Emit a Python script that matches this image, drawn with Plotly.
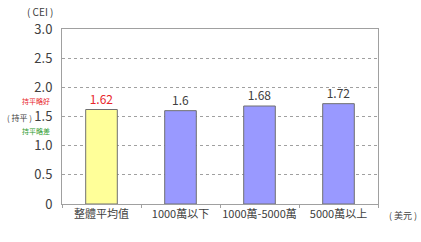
import plotly.graph_objects as go

categories = ["整體平均值", "1000萬以下", "1000萬-5000萬", "5000萬以上"]
values = [1.62, 1.6, 1.68, 1.72]
value_labels = ["1.62", "1.6", "1.68", "1.72"]
bar_colors = ["#FFFF99", "#9999FF", "#9999FF", "#9999FF"]
label_colors = ["#E8262B", "#404040", "#404040", "#404040"]
y_tickvals = [0, 0.5, 1.0, 1.5, 2.0, 2.5, 3.0]
y_ticktext = ["0", "0.5", "1.0", "1.5", "2.0", "2.5", "3.0"]

FONT = "Noto Sans CJK TC, Noto Sans, sans-serif"

fig = go.Figure()
fig.add_trace(go.Bar(
    x=categories, y=values,
    marker=dict(color=bar_colors, line=dict(color="#707070", width=1)),
    text=value_labels, textposition="outside",
    textfont=dict(color=label_colors, size=12, family=FONT),
    cliponaxis=False,
))

fig.update_layout(
    width=421, height=242,
    margin=dict(l=62, r=43, t=29, b=38, autoexpand=False),
    paper_bgcolor="white", plot_bgcolor="white",
    showlegend=False, bargap=0.6,
    font=dict(family=FONT, color="#404040", size=11),
    xaxis=dict(
        showline=True, linecolor="#A0A0A0", linewidth=1, mirror=True,
        ticks="outside", ticklen=3, tickcolor="#A0A0A0", tickson="boundaries",
        tickangle=0, automargin=False,
        tickfont=dict(size=11, color="#404040"),
    ),
    yaxis=dict(
        range=[0, 3], tickvals=y_tickvals, ticktext=y_ticktext,
        showline=True, linecolor="#A0A0A0", linewidth=1, mirror=True,
        showgrid=True, gridcolor="#A0A0A0", griddash="dot", gridwidth=1,
        zeroline=False, ticks="", ticklabelstandoff=6, automargin=False,
        tickfont=dict(size=13, color="#404040"),
    ),
)

ann = [
    dict(text="( CEI )", x=40, y=12, size=10, color="#404040"),
    dict(text="持平略好", x=36, y=101, size=7, color="#E8262B"),
    dict(text="( 持平 )", x=19, y=117, size=8, color="#404040"),
    dict(text="持平略差", x=36, y=131, size=7, color="#2E9B2E"),
    dict(text="( 美元 )", x=403, y=215, size=9, color="#404040"),
]
for a in ann:
    fig.add_annotation(text=a["text"], xref="paper", yref="paper",
                       x=(a["x"] - 62) / 316, y=(204 - a["y"]) / 175,
                       showarrow=False, xanchor="center", yanchor="middle",
                       font=dict(size=a["size"], color=a["color"], family=FONT))

fig.write_html("out.html")
